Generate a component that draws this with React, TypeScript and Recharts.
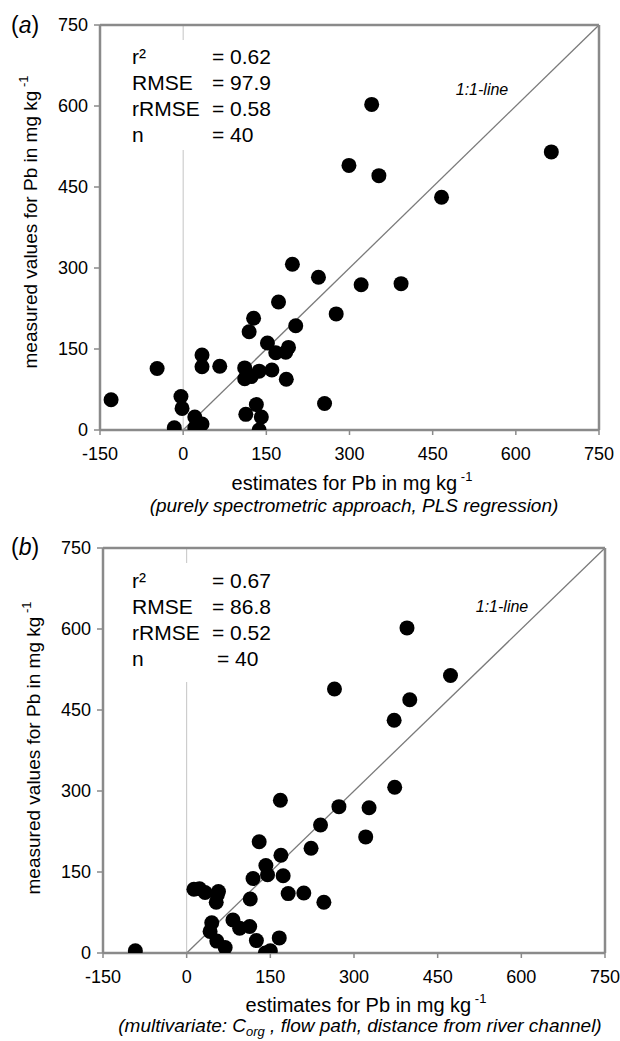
import React from "react";
import {
  ScatterChart,
  Scatter,
  XAxis,
  YAxis,
  ReferenceLine,
} from "recharts";

const xTicks = [-150, 0, 150, 300, 450, 600, 750];
const yTicks = [0, 150, 300, 450, 600, 750];

// Panel (a): purely spectrometric approach, PLS regression
const estA = [340, 299, 353, 466, 664, 197, 244, 321, 393, 172, 276, 127, 203, 119, 152, 167, 185, 190, -47, 34, 34, 66, 111, 111, 123, 137, 160, 186, -130, -4, -2, 255, 113, 132, 141, 21, -16, 21, 34, 137];
const measA = [603, 490, 471, 431, 515, 307, 283, 269, 271, 237, 215, 207, 193, 182, 161, 143, 144, 153, 114, 139, 117, 118, 115, 95, 99, 109, 111, 94, 56, 62, 40, 49, 29, 47, 24, 24, 4, 4, 11, 0];

// Panel (b): multivariate
const estB = [395, 265, 473, 400, 372, 373, 168, 273, 327, 240, 321, 130, 223, 169, 142, 145, 173, 119, 13, 23, 33, 57, 53, 114, 182, 210, 246, 45, 42, 83, 95, 113, 54, 69, 125, 166, 141, 150, -92, 55];
const measB = [602, 489, 514, 469, 431, 307, 283, 271, 269, 237, 215, 206, 194, 181, 162, 145, 143, 138, 118, 119, 112, 114, 94, 100, 110, 111, 94, 56, 40, 61, 46, 49, 22, 10, 23, 28, 0, 4, 4, 108];

const dataA = estA.map((x, i) => ({ x, y: measA[i] }));
const dataB = estB.map((x, i) => ({ x, y: measB[i] }));

const FONT = "'Liberation Sans', Arial, Helvetica, sans-serif";
const BORDER = "#8a8a8a";

const Dot = (props: any) => {
  const { cx, cy } = props;
  if (cx == null || cy == null) return null;
  return <circle cx={cx} cy={cy} r={7.5} fill="#000" />;
};

type PanelProps = {
  data: { x: number; y: number }[];
  height: number;
  margin: { top: number; right: number; bottom: number; left: number };
  yWidth: number;
};

function Panel({ data, height, margin, yWidth }: PanelProps) {
  return (
    <ScatterChart width={620} height={height} margin={margin}>
      <XAxis
        type="number"
        dataKey="x"
        domain={[-150, 750]}
        ticks={xTicks}
        interval={0}
        allowDataOverflow
        height={30}
        tickSize={5}
        tickMargin={12}
        axisLine={{ stroke: BORDER, strokeWidth: 2.5 }}
        tickLine={{ stroke: BORDER, strokeWidth: 1.5 }}
        tick={{ fill: "#000", fontSize: 18, fontFamily: FONT }}
      />
      <YAxis
        type="number"
        dataKey="y"
        domain={[0, 750]}
        ticks={yTicks}
        interval={0}
        allowDataOverflow
        width={yWidth}
        tickSize={6}
        tickMargin={6}
        axisLine={{ stroke: BORDER, strokeWidth: 2.5 }}
        tickLine={{ stroke: BORDER, strokeWidth: 1.5 }}
        tick={{ fill: "#000", fontSize: 18, fontFamily: FONT }}
      />
      <ReferenceLine x={0} stroke="#c4c4c4" strokeWidth={1} />
      <ReferenceLine
        segment={[
          { x: 0, y: 0 },
          { x: 750, y: 750 },
        ]}
        stroke="#7a7a7a"
        strokeWidth={1.3}
      />
      <ReferenceLine y={750} stroke={BORDER} strokeWidth={2.5} />
      <ReferenceLine x={750} stroke={BORDER} strokeWidth={2.5} />
      <Scatter data={data} isAnimationActive={false} shape={Dot} />
    </ScatterChart>
  );
}

function Stats({
  top,
  vals,
  nEqX,
}: {
  top: number;
  vals: string[];
  nEqX: number;
}) {
  const labels = ["r\u00B2", "RMSE", "rRMSE", "n"];
  return (
    <g fontFamily={FONT} fontSize={21} fill="#000">
      {labels.map((l, i) => (
        <React.Fragment key={l}>
          <text x={132} y={top + i * 26}>{l}</text>
          <text x={i === 3 ? nEqX : 212} y={top + i * 26}>{vals[i]}</text>
        </React.Fragment>
      ))}
    </g>
  );
}

export default function App() {
  return (
    <div
      style={{
        position: "absolute",
        left: 0,
        top: 0,
        width: 620,
        height: 1041,
        background: "#fff",
      }}
    >
      <div style={{ position: "absolute", left: 0, top: 0 }}>
        <Panel
          data={dataA}
          height={520}
          margin={{ top: 25, right: 21, bottom: 60, left: 0 }}
          yWidth={100}
        />
      </div>
      <div style={{ position: "absolute", left: 0, top: 520 }}>
        <Panel
          data={dataB}
          height={521}
          margin={{ top: 28, right: 15, bottom: 58, left: 0 }}
          yWidth={103}
        />
      </div>
      <svg
        width={620}
        height={1041}
        style={{ position: "absolute", left: 0, top: 0, pointerEvents: "none" }}
      >
        {/* white boxes behind stats */}
        <rect x={125} y={40} width={155} height={110} fill="#fff" />
        <rect x={125} y={563} width={155} height={119} fill="#fff" />

        <Stats top={64} vals={["= 0.62", "= 97.9", "= 0.58", "= 40"]} nEqX={212} />
        <Stats top={588} vals={["= 0.67", "= 86.8", "= 0.52", "= 40"]} nEqX={217} />

        {/* panel letters */}
        <text x={11} y={33} fontFamily={FONT} fontSize={23} fill="#000">
          (<tspan fontStyle="italic">a</tspan>)
        </text>
        <text x={11} y={555} fontFamily={FONT} fontSize={23} fill="#000">
          (<tspan fontStyle="italic">b</tspan>)
        </text>

        {/* 1:1 line labels */}
        <text x={482} y={95} textAnchor="middle" fontFamily={FONT} fontSize={16} fontStyle="italic" fill="#000">
          1:1-line
        </text>
        <text x={502} y={612} textAnchor="middle" fontFamily={FONT} fontSize={16} fontStyle="italic" fill="#000">
          1:1-line
        </text>

        {/* y-axis labels */}
        <text
          transform="translate(37,222) rotate(-90)"
          textAnchor="middle"
          fontFamily={FONT}
          fontSize={19}
          fill="#000"
        >
          measured values for  Pb in mg kg<tspan fontSize={13} dy={-9}> -1</tspan>
        </text>
        <text
          transform="translate(40,748) rotate(-90)"
          textAnchor="middle"
          fontFamily={FONT}
          fontSize={19}
          fill="#000"
        >
          measured values for  Pb in mg kg<tspan fontSize={13} dy={-9}> -1</tspan>
        </text>

        {/* x-axis labels */}
        <text x={352} y={490} textAnchor="middle" fontFamily={FONT} fontSize={20} fill="#000">
          estimates for Pb in mg kg<tspan fontSize={13} dy={-9}> -1</tspan>
        </text>
        <text x={366} y={1012} textAnchor="middle" fontFamily={FONT} fontSize={20} fill="#000">
          estimates for Pb in mg kg<tspan fontSize={13} dy={-9}> -1</tspan>
        </text>

        {/* subtitles */}
        <text x={354} y={512} textAnchor="middle" fontFamily={FONT} fontSize={19} fontStyle="italic" fill="#000">
          (purely spectrometric approach, PLS regression)
        </text>
        <text x={360} y={1032} textAnchor="middle" fontFamily={FONT} fontSize={19} fontStyle="italic" fill="#000">
          (multivariate: C<tspan fontSize={13} dy={4}>org</tspan>
          <tspan dy={-4}> , flow path, distance from river channel)</tspan>
        </text>
      </svg>
    </div>
  );
}
